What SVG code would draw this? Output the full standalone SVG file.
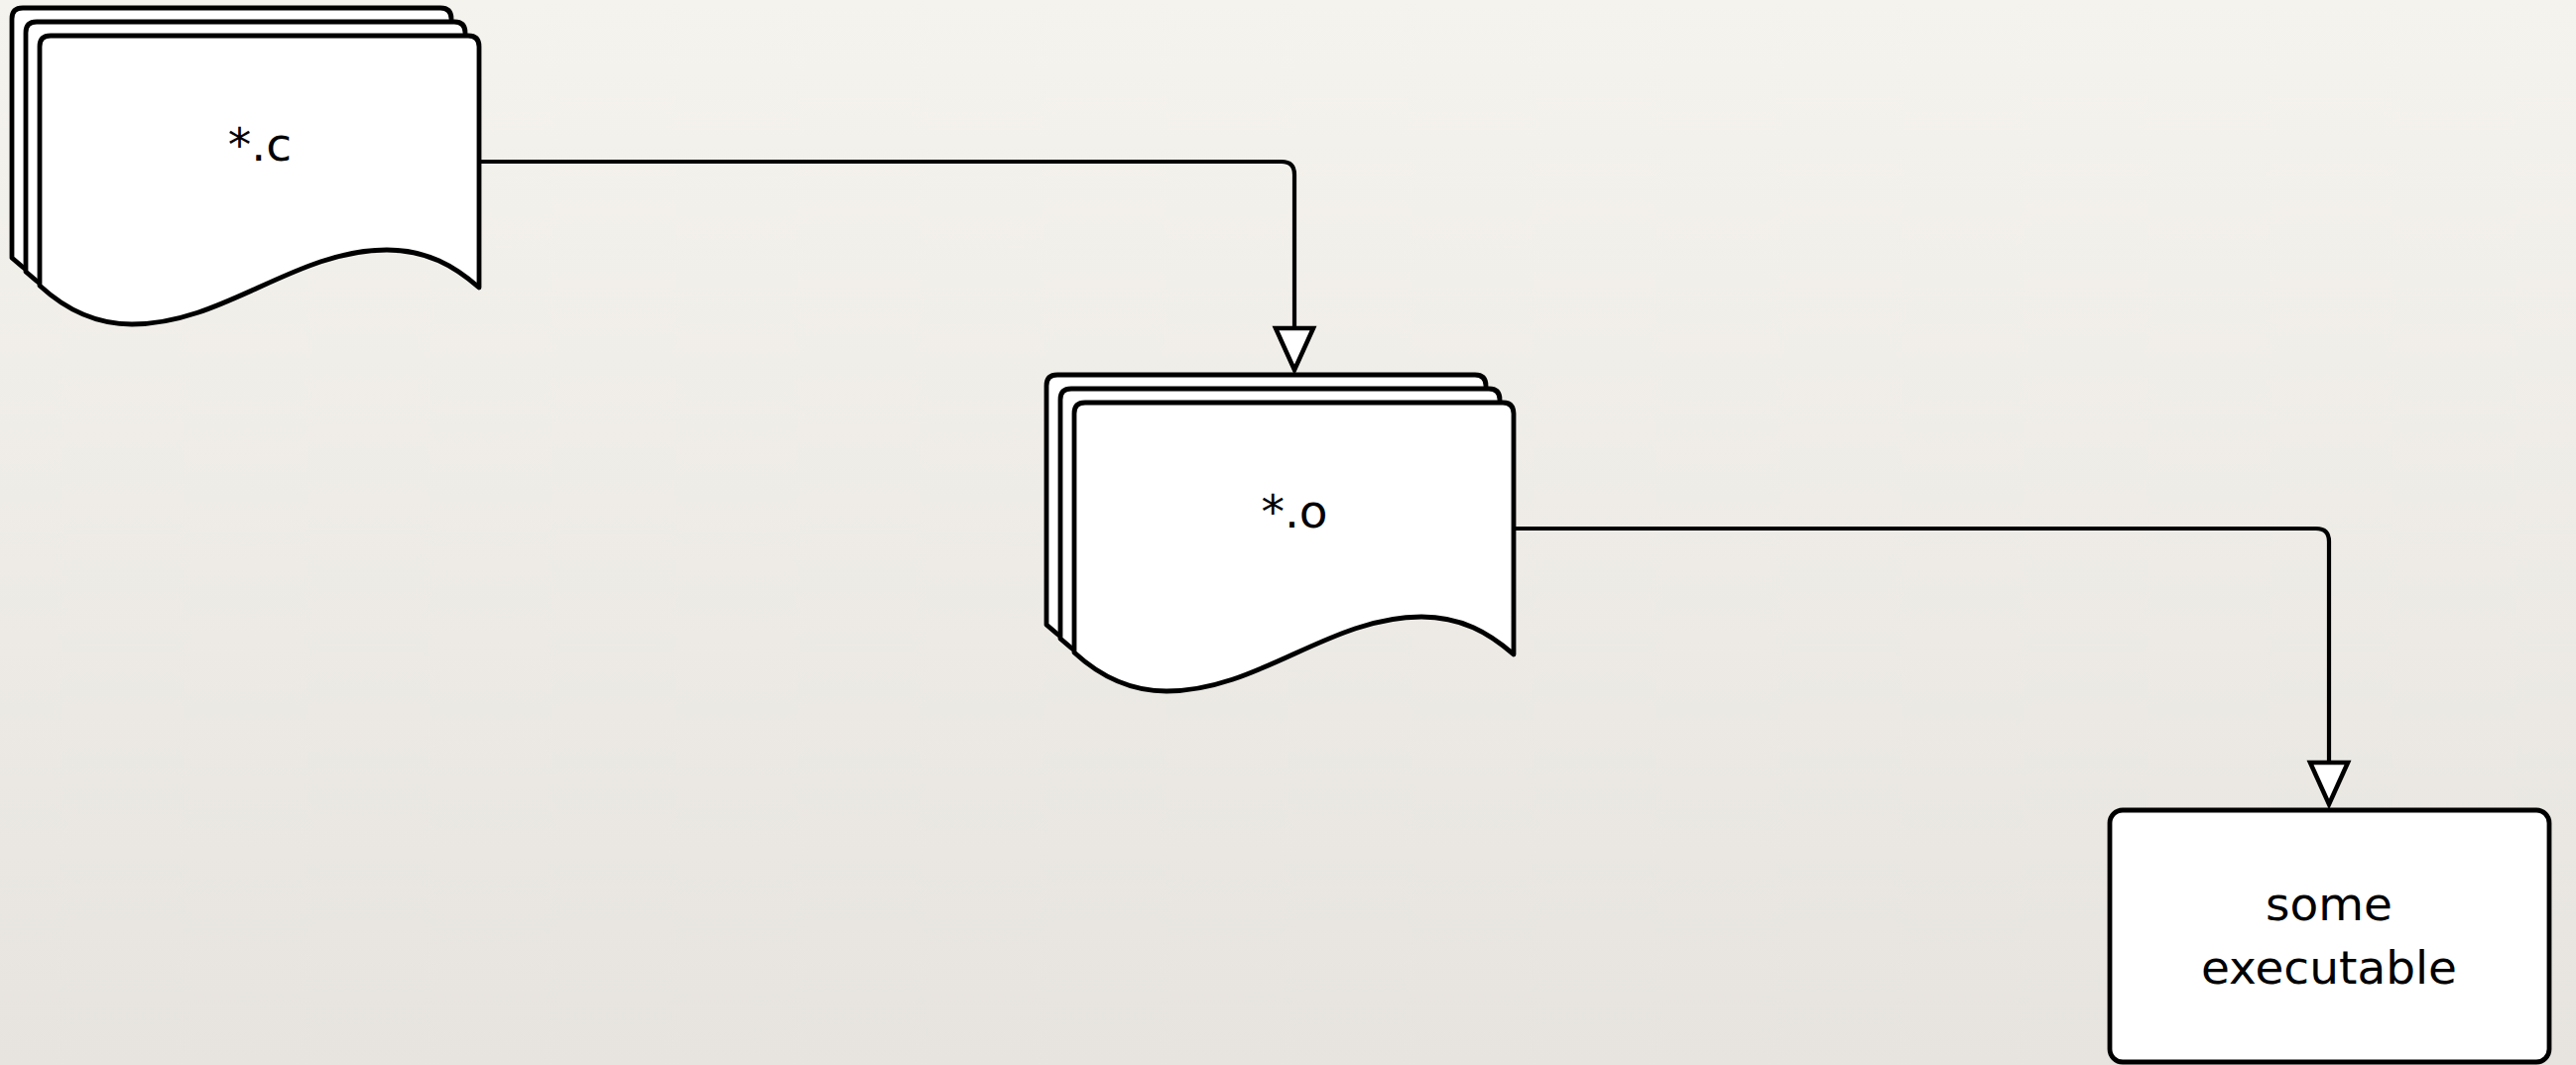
<svg xmlns="http://www.w3.org/2000/svg" width="2597" height="1074" viewBox="0 0 2597 1074">
  <defs>
    <linearGradient id="bg" x1="0" y1="0" x2="0" y2="1">
      <stop offset="0" stop-color="#f5f3ee"/>
      <stop offset="1" stop-color="#e7e4df"/>
    </linearGradient>
    <path id="doc" d="M 0,11 Q 0,0 11,0 L 432,0 Q 443,0 443,11 L 443,254 C 418,232 390,216 350,216 C 257,216 186,291 93,291 C 58,291 26,276 0,252 Z"/>
    <marker id="tri" markerUnits="userSpaceOnUse" viewBox="-4 -24 50 48" markerWidth="50" markerHeight="48" refX="42" refY="0" orient="auto" overflow="visible">
      <polygon points="0,-19 42,0 0,19" fill="#ffffff" stroke="#000000" stroke-width="4.5" stroke-linejoin="miter"/>
    </marker>
  </defs>
  <style>
    .shape { fill: #ffffff; stroke: #000000; stroke-width: 4.8; stroke-linejoin: round; }
    .edge { fill: none; stroke: #000000; stroke-width: 4.2; marker-end: url(#tri); }
    .label { font-family: "DejaVu Sans", Verdana, sans-serif; font-size: 47px; fill: #000000; text-anchor: middle; }
  </style>
  <rect x="0" y="0" width="2597" height="1074" fill="url(#bg)"/>

  <g id="connectors">
    <path class="edge" d="M 483,163 L 1292,163 Q 1305,163 1305,176 L 1305,373"/>
    <path class="edge" d="M 1527,533 L 2335,533 Q 2348,533 2348,546 L 2348,811"/>
  </g>

  <g id="node-c" transform="translate(40,36)">
    <use href="#doc" class="shape" x="-28" y="-28"/>
    <use href="#doc" class="shape" x="-14" y="-14"/>
    <use href="#doc" class="shape"/>
    <text class="label" x="222" y="126">*.c</text>
  </g>

  <g id="node-o" transform="translate(1083,406)">
    <use href="#doc" class="shape" x="-28" y="-28"/>
    <use href="#doc" class="shape" x="-14" y="-14"/>
    <use href="#doc" class="shape"/>
    <text class="label" x="222" y="126">*.o</text>
  </g>

  <g id="node-exe">
    <rect class="shape" x="2127" y="817" width="443" height="254" rx="13" ry="13"/>
    <text class="label" x="2348" y="928">some</text>
    <text class="label" x="2348" y="992">executable</text>
  </g>
</svg>
